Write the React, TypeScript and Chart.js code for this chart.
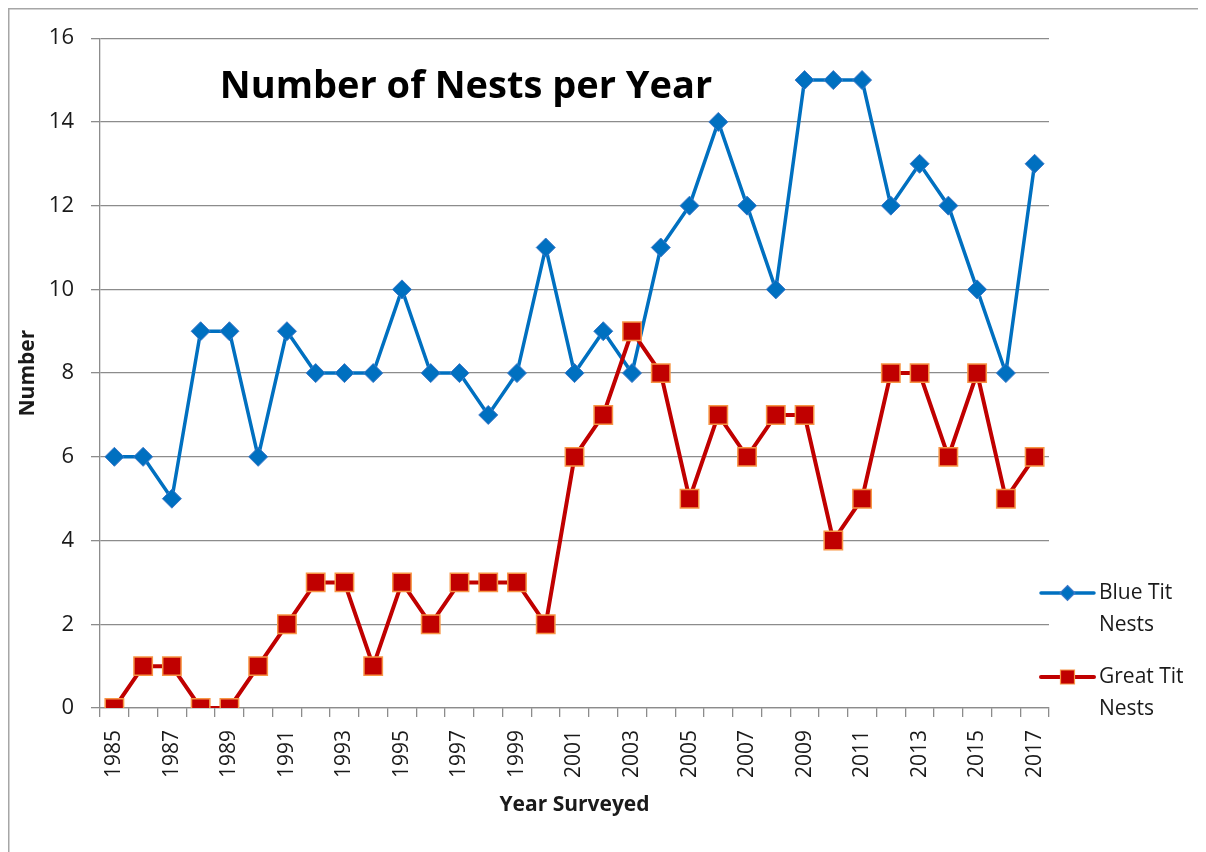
import React, { useEffect, useRef } from "react";
import { Chart, registerables } from "chart.js";

Chart.register(...registerables);

const years = [
  "1985", "1986", "1987", "1988", "1989", "1990", "1991", "1992", "1993", "1994", "1995",
  "1996", "1997", "1998", "1999", "2000", "2001", "2002", "2003", "2004", "2005", "2006",
  "2007", "2008", "2009", "2010", "2011", "2012", "2013", "2014", "2015", "2016", "2017",
];

const blueTitNests = [
  6, 6, 5, 9, 9, 6, 9, 8, 8, 8, 10, 8, 8, 7, 8, 11, 8, 9, 8, 11, 12, 14, 12, 10, 15, 15, 15,
  12, 13, 12, 10, 8, 13,
];

const greatTitNests = [
  0, 1, 1, 0, 0, 1, 2, 3, 3, 1, 3, 2, 3, 3, 3, 2, 6, 7, 9, 8, 5, 7, 6, 7, 7, 4, 5, 8, 8, 6,
  8, 5, 6,
];

const chartTitle = "Number of Nests per Year";
const yAxisTitle = "Number";
const xAxisTitle = "Year Surveyed";
const seriesNames = [["Blue Tit", "Nests"], ["Great Tit", "Nests"]];

const FONT = '"Open Sans", "Liberation Sans", sans-serif';
const BLUE = "#0070C0";
const RED = "#C00000";
const ORANGE = "#F79646";
const GRID = "#8c8c8c";

const W = 1198;
const H = 844;

const decorPlugin = {
  id: "decor",
  beforeDraw(chart: any) {
    const ctx = chart.ctx;
    ctx.save();
    ctx.fillStyle = "#ffffff";
    ctx.fillRect(0, 0, chart.width, chart.height);
    ctx.strokeStyle = "#a6a6a6";
    ctx.lineWidth = 1.5;
    ctx.beginPath();
    ctx.moveTo(0.75, chart.height);
    ctx.lineTo(0.75, 0.75);
    ctx.lineTo(chart.width, 0.75);
    ctx.stroke();
    ctx.restore();
  },
  afterDraw(chart: any) {
    const ctx = chart.ctx;
    ctx.save();
    // title inside plot
    ctx.fillStyle = "#000";
    ctx.font = `bold 38px ${FONT}`;
    ctx.textAlign = "center";
    ctx.textBaseline = "alphabetic";
    ctx.fillText(chartTitle, 458, 90);

    // legend
    const items = [
      { y: 585, color: BLUE, border: "#3C78C8", style: "diamond", lw: 3.5 },
      { y: 669, color: RED, border: ORANGE, style: "square", lw: 4 },
    ];
    items.forEach((it, i) => {
      ctx.strokeStyle = it.color;
      ctx.lineWidth = it.lw;
      ctx.lineCap = "round";
      ctx.beginPath();
      ctx.moveTo(1033, it.y);
      ctx.lineTo(1086, it.y);
      ctx.stroke();
      const cx = 1059.5;
      ctx.fillStyle = it.color;
      ctx.strokeStyle = it.border;
      ctx.lineWidth = 1.2;
      ctx.beginPath();
      if (it.style === "diamond") {
        ctx.moveTo(cx, it.y - 7.5);
        ctx.lineTo(cx + 7.5, it.y);
        ctx.lineTo(cx, it.y + 7.5);
        ctx.lineTo(cx - 7.5, it.y);
        ctx.closePath();
      } else {
        ctx.rect(cx - 7, it.y - 7, 14, 14);
      }
      ctx.fill();
      ctx.stroke();
      ctx.fillStyle = "#1a1a1a";
      ctx.font = `21px ${FONT}`;
      ctx.textAlign = "left";
      ctx.textBaseline = "middle";
      seriesNames[i].forEach((line, j) => {
        ctx.fillText(line, 1091, it.y + j * 32);
      });
    });
    ctx.restore();
  },
};

export default function App() {
  const ref = useRef<HTMLCanvasElement | null>(null);

  useEffect(() => {
    document.documentElement.style.overflow = "hidden";
    if (!ref.current) return;
    const chart = new Chart(ref.current, {
      type: "line",
      data: {
        labels: years,
        datasets: [
          {
            label: "Blue Tit Nests",
            data: blueTitNests,
            borderColor: BLUE,
            backgroundColor: BLUE,
            borderWidth: 3.5,
            pointStyle: "rectRot",
            pointRadius: 9.5,
            pointBackgroundColor: BLUE,
            pointBorderColor: "#3C78C8",
            pointBorderWidth: 1,
            tension: 0,
            order: 1,
          },
          {
            label: "Great Tit Nests",
            data: greatTitNests,
            borderColor: RED,
            backgroundColor: RED,
            borderWidth: 4,
            pointStyle: "rect",
            pointRadius: 13,
            pointBackgroundColor: RED,
            pointBorderColor: ORANGE,
            pointBorderWidth: 1.5,
            tension: 0,
            order: 0,
          },
        ],
      },
      options: {
        animation: false,
        responsive: false,
        devicePixelRatio: 1,
        layout: { padding: { left: 0, right: 157, top: 30, bottom: 30 } },
        plugins: {
          legend: { display: false },
          title: { display: false },
          tooltip: { enabled: false },
        },
        scales: {
          x: {
            type: "category",
            offset: true,
            afterFit: (scale: any) => {
              scale.height = 114;
            },
            grid: {
              display: true,
              drawOnChartArea: false,
              drawTicks: true,
              tickLength: 9,
              color: GRID,
              lineWidth: 1.3,
              offset: true,
            },
            border: { display: true, color: GRID, width: 1.3 },
            ticks: {
              autoSkip: false,
              minRotation: 90,
              maxRotation: 90,
              padding: 13,
              color: "#1a1a1a",
              font: { family: FONT, size: 21 },
              callback: (_v: any, i: number) => (i % 2 === 0 ? years[i] : ""),
            },
            title: {
              display: true,
              text: xAxisTitle,
              color: "#1a1a1a",
              font: { family: FONT, size: 21, weight: "bold" },
              padding: { top: 0, bottom: 4 },
            },
          },
          y: {
            min: 0,
            max: 16,
            afterFit: (scale: any) => {
              scale.width = 92;
            },
            grid: {
              color: GRID,
              lineWidth: 1.3,
              drawTicks: true,
              tickLength: 9,
            },
            border: { display: true, color: GRID, width: 1.3 },
            ticks: {
              stepSize: 2,
              padding: 17,
              color: "#1a1a1a",
              font: { family: FONT, size: 22 },
            },
            title: {
              display: true,
              text: yAxisTitle,
              color: "#1a1a1a",
              font: { family: FONT, size: 21, weight: "bold" },
              padding: { top: 7, bottom: 0 },
            },
          },
        },
      },
      plugins: [decorPlugin],
    } as any);
    return () => chart.destroy();
  }, []);

  return (
    <div style={{ width: W, height: H }}>
      <canvas ref={ref} width={W} height={H} style={{ width: W, height: H, display: "block" }} />
    </div>
  );
}
